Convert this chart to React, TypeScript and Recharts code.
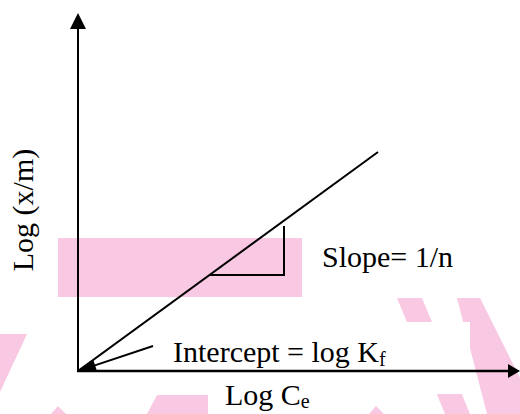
import { LineChart, Line, XAxis, YAxis, ReferenceLine } from "recharts"

// Freundlich isotherm sketch: log(x/m) against log Ce
const logCe = [0, 3.0]
const logXm = [0, 2.19]

// slope step drawn under the fitted line
const stepCe = [1.32, 2.06, 2.06]
const stepXm = [0.96, 0.96, 1.45]

// pointer from the intercept label down to the origin
const pointerFrom = { x: 0.75, y: 0.25 }
const pointerTo = { x: 0, y: 0 }

const fit = logCe.map((x, i) => ({ x, y: logXm[i] }))
const step = stepCe.map((x, i) => ({ x, y: stepXm[i] }))

const serif = '"Liberation Serif", "Times New Roman", serif'
const pink = "#f9c8e2"

// line with a filled head at (x2, y2)
function arrow(x1: number, y1: number, x2: number, y2: number, headLen: number, halfW: number, width: number) {
  const dx = x2 - x1
  const dy = y2 - y1
  const len = Math.hypot(dx, dy)
  const ux = dx / len
  const uy = dy / len
  const bx = x2 - ux * headLen
  const by = y2 - uy * headLen
  const px = -uy * halfW
  const py = ux * halfW
  return (
    <g>
      <line x1={x1} y1={y1} x2={bx + ux} y2={by + uy} stroke="#000" strokeWidth={width} />
      <polygon points={`${x2},${y2} ${bx + px},${by + py} ${bx - px},${by - py}`} fill="#000" />
    </g>
  )
}

function Pointer(props: any) {
  const { x1, y1, x2, y2 } = props
  return arrow(x1, y1, x2, y2, 18, 5, 2)
}

// axis line: head goes on the far end (right or top)
function AxisLine(props: any) {
  const { x1, y1, x2, y2 } = props
  const flip = x1 > x2 || y1 < y2
  const [ax, ay, bx, by] = flip ? [x2, y2, x1, y1] : [x1, y1, x2, y2]
  const vertical = Math.abs(ax - bx) < 1
  return vertical ? arrow(ax, ay + 1, bx, by, 16, 8, 2) : arrow(ax - 1, ay, bx, by, 12, 7, 2.5)
}

export default function App() {
  return (
    <div style={{ position: "absolute", left: 0, top: 0, width: 520, height: 414, background: "#fff" }}>
      <svg width={520} height={414} style={{ position: "absolute", left: 0, top: 0 }}>
        {/* faint background watermark */}
        <g fill={pink}>
          <rect x={58} y={238} width={244} height={59} />
          <polygon points="0,334 27,334 0,392" />
          <polygon points="147,414 157,395 208,395 208,414" />
          <polygon points="51,414 58,406 66,414" />
          <polygon points="369,414 376,406 384,414" />
          <polygon points="397,298 422,298 470,414 445,414" />
          <polygon points="457,298 480,298 520,378 520,414 487,414" />
        </g>
        <rect x={150} y={322} width={320} height={72} fill="#fff" />
      </svg>
      <div style={{ position: "absolute", left: 0, top: 0 }}>
        <LineChart width={520} height={414} margin={{ top: 13, right: 0, left: 78, bottom: 43 }}>
          <XAxis type="number" dataKey="x" domain={[0, 4.42]} allowDataOverflow hide />
          <YAxis type="number" dataKey="y" domain={[0, 3.58]} allowDataOverflow hide />
          <ReferenceLine y={0} shape={AxisLine} />
          <ReferenceLine x={0} shape={AxisLine} />
          <Line data={fit} dataKey="y" stroke="#000" strokeWidth={2} dot={false} activeDot={false} isAnimationActive={false} />
          <Line data={step} dataKey="y" stroke="#000" strokeWidth={2} dot={false} activeDot={false} isAnimationActive={false} />
          <ReferenceLine segment={[pointerFrom, pointerTo]} shape={Pointer} />
          <text x={322} y={267} fontFamily={serif} fontSize={30} fill="#000">Slope= 1/n</text>
          <text x={173} y={362} fontFamily={serif} fontSize={30} fill="#000">
            <tspan>Intercept = log K</tspan>
            <tspan fontSize={20} dy={4}>f</tspan>
          </text>
          <text x={225} y={405} fontFamily={serif} fontSize={30} fill="#000">
            <tspan>Log C</tspan>
            <tspan fontSize={20} dy={3}>e</tspan>
          </text>
          <text x={33} y={210} fontFamily={serif} fontSize={30} fill="#000" textAnchor="middle"
            transform="rotate(-90, 33, 210)">Log (x/m)</text>
        </LineChart>
      </div>
    </div>
  )
}
